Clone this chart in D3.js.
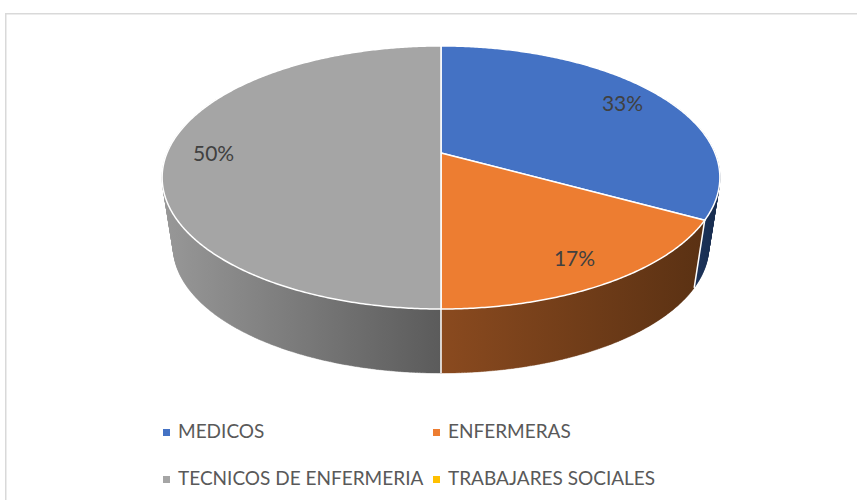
<!DOCTYPE html>
<html>
<head>
<meta charset="utf-8">
<script src="https://cdn.jsdelivr.net/npm/d3@7"></script>
<style>
  body { margin: 0; background: #fff; }
  svg { display: block; font-family: Lato, "Open Sans", sans-serif; }
</style>
</head>
<body>
<div id="chart"></div>
<script>
const categories = ["MEDICOS", "ENFERMERAS", "TECNICOS DE ENFERMERIA", "TRABAJARES SOCIALES"];
const values = [33, 17, 50, 0];
const pctLabels = ["33%", "17%", "50%", "0%"];

const topColors = ["#4472C4", "#ED7D31", "#A5A5A5", "#FFC000"];
const sideLight = ["#24406f", "#8a4a1f", "#989898", "#997300"];
const sideDark = ["#172b4d", "#5a3113", "#5b5b5b", "#7f6000"];

const width = 858;
const height = 500;

// 3d pie geometry (top disc in perspective, bottom disc shrunk towards a vanishing point)
const cx = 441, cy = 153, rx = 274, ry = 127, persp = 0.186;
const vanish = [441, 1910], shrink = 0.96;

function topPoint(a, r) {
	const s = 1 / (1 + persp * r * Math.cos(a));
	return [cx + rx * r * Math.sin(a) * s, cy - ry * r * Math.cos(a) * s];
}
function bottomPoint(a) {
	const p = topPoint(a, 1);
	return [vanish[0] + (p[0] - vanish[0]) * shrink, vanish[1] + (p[1] - vanish[1]) * shrink];
}

const svg = d3.select("#chart")
	.append("svg")
	.attr("width", width)
	.attr("height", height);

const defs = svg.append("defs");
const color = d3.scaleOrdinal().domain(categories).range(topColors);

const pie = d3.pie().sort(null).value(d => d.value);
const arcs = pie(categories.map((c, i) => ({ name: c, value: values[i], i: i })));

// frame
svg.append("path")
	.attr("d", `M5.75,${height} V13.75 H857`)
	.attr("fill", "none")
	.attr("stroke", "#d9d9d9")
	.attr("stroke-width", 1.5);

const step = Math.PI / 360;
const frontMin = Math.PI * 0.35, frontMax = Math.PI * 1.65;

// side walls
const sides = svg.append("g");
arcs.forEach(function (d) {
	if (d.value === 0) return;
	const a0 = Math.max(d.startAngle, frontMin);
	const a1 = Math.min(d.endAngle, frontMax);
	if (a1 <= a0) return;
	let path = "";
	let minX = Infinity, maxX = -Infinity;
	const n = Math.max(2, Math.ceil((a1 - a0) / step));
	for (let k = 0; k < n; k++) {
		const t0 = a0 + (a1 - a0) * k / n;
		const t1 = a0 + (a1 - a0) * (k + 1) / n;
		let q = [topPoint(t0, 1), topPoint(t1, 1), bottomPoint(t1), bottomPoint(t0)];
		const area = d3.polygonArea(q);
		if (area < 0) q = q.reverse();
		q.forEach(p => { minX = Math.min(minX, p[0]); maxX = Math.max(maxX, p[0]); });
		path += "M" + q.map(p => p[0].toFixed(2) + "," + p[1].toFixed(2)).join("L") + "Z";
	}
	const gid = "side" + d.data.i;
	const grad = defs.append("linearGradient")
		.attr("id", gid)
		.attr("gradientUnits", "userSpaceOnUse")
		.attr("x1", minX).attr("x2", maxX)
		.attr("y1", 0).attr("y2", 0);
	grad.append("stop").attr("offset", 0).attr("stop-color", sideLight[d.data.i]);
	grad.append("stop").attr("offset", 1).attr("stop-color", sideDark[d.data.i]);
	sides.append("path")
		.attr("d", path)
		.attr("fill", `url(#${gid})`)
		.attr("stroke", `url(#${gid})`)
		.attr("stroke-width", 0.4);
});

// white seams on the side walls
arcs.forEach(function (d) {
	const a = d.startAngle;
	if (d.value === 0 || a < Math.PI * 0.56 || a > Math.PI * 1.44) return;
	const t = topPoint(a, 1), b = bottomPoint(a);
	sides.append("line")
		.attr("x1", t[0]).attr("y1", t[1])
		.attr("x2", b[0]).attr("y2", b[1])
		.attr("stroke", "#fff")
		.attr("stroke-width", 1.5);
});

// top faces
const line = d3.line();
svg.append("g")
	.selectAll("path")
	.data(arcs.filter(d => d.value > 0))
	.join("path")
	.attr("d", function (d) {
		const pts = [topPoint(0, 0)];
		const n = Math.ceil((d.endAngle - d.startAngle) / step);
		for (let k = 0; k <= n; k++) {
			pts.push(topPoint(d.startAngle + (d.endAngle - d.startAngle) * k / n, 1));
		}
		return line(pts) + "Z";
	})
	.attr("fill", d => color(d.data.name))
	.attr("stroke", "#fff")
	.attr("stroke-width", 1.5)
	.attr("stroke-linejoin", "round");

// percentage labels
svg.append("g")
	.selectAll("text")
	.data(arcs.filter(d => d.value > 0))
	.join("text")
	.attr("x", d => topPoint((d.startAngle + d.endAngle) / 2, 0.83)[0])
	.attr("y", d => topPoint((d.startAngle + d.endAngle) / 2, 0.83)[1] + 8)
	.attr("text-anchor", "middle")
	.attr("font-size", 21)
	.attr("fill", "#404040")
	.text(d => pctLabels[d.data.i]);

// legend
const legendX = [163, 433];
const legendY = [438, 485];
const legend = svg.append("g")
	.selectAll("g")
	.data(categories)
	.join("g")
	.attr("transform", (d, i) => `translate(${legendX[i % 2]}, ${legendY[Math.floor(i / 2)]})`);

legend.append("rect")
	.attr("x", 0)
	.attr("y", -9)
	.attr("width", 7)
	.attr("height", 7)
	.attr("fill", d => color(d));

legend.append("text")
	.attr("x", 15)
	.attr("y", 0)
	.attr("font-size", 19)
	.attr("fill", "#595959")
	.text(d => d);
</script>
</body>
</html>
